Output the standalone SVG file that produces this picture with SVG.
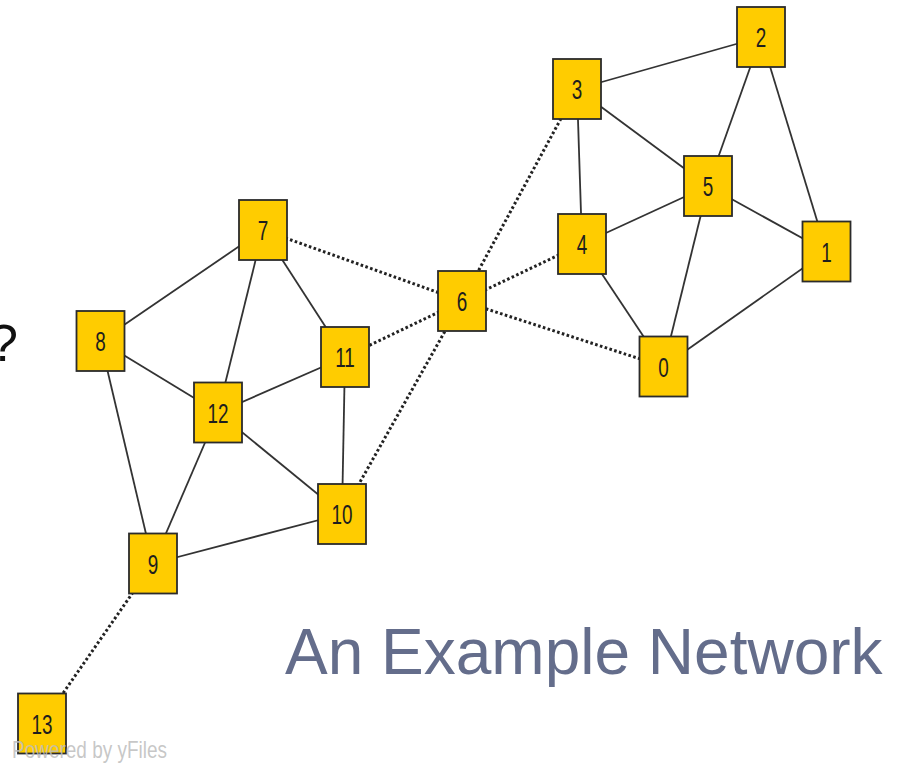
<svg xmlns="http://www.w3.org/2000/svg" width="897" height="763" viewBox="0 0 897 763">
  <style>
    .edge { stroke: #333; stroke-width: 1.8; fill: none; }
    .dot { stroke: #222; stroke-width: 3; fill: none; stroke-dasharray: 2.6 2.4; }
    .box { fill: #FFCC00; stroke: #2b2b2b; stroke-width: 1.8; }
    .lbl { font-family: "Liberation Sans", Arial, sans-serif; font-size: 27px; fill: #1e1e1e; text-anchor: middle; }
  </style>
  <rect width="897" height="763" fill="#ffffff"/>

  <text x="-11" y="361" font-family="'Liberation Sans', Arial, sans-serif" font-size="52" fill="#111">?</text>

  <g id="connectors">
    <!-- solid links -->
    <line class="edge" x1="577" y1="89" x2="761" y2="37"/>
    <line class="edge" x1="761" y1="37" x2="708" y2="186"/>
    <line class="edge" x1="761" y1="37" x2="826.5" y2="251.5"/>
    <line class="edge" x1="577" y1="89" x2="708" y2="186"/>
    <line class="edge" x1="577" y1="89" x2="582" y2="244"/>
    <line class="edge" x1="582" y1="244" x2="708" y2="186"/>
    <line class="edge" x1="708" y1="186" x2="826.5" y2="251.5"/>
    <line class="edge" x1="708" y1="186" x2="663.5" y2="366.5"/>
    <line class="edge" x1="582" y1="244" x2="663.5" y2="366.5"/>
    <line class="edge" x1="826.5" y1="251.5" x2="663.5" y2="366.5"/>
    <line class="edge" x1="263" y1="230" x2="100.5" y2="341"/>
    <line class="edge" x1="263" y1="230" x2="218" y2="412.5"/>
    <line class="edge" x1="263" y1="230" x2="345" y2="357"/>
    <line class="edge" x1="100.5" y1="341" x2="218" y2="412.5"/>
    <line class="edge" x1="100.5" y1="341" x2="153" y2="563.5"/>
    <line class="edge" x1="218" y1="412.5" x2="345" y2="357"/>
    <line class="edge" x1="218" y1="412.5" x2="342" y2="514"/>
    <line class="edge" x1="218" y1="412.5" x2="153" y2="563.5"/>
    <line class="edge" x1="345" y1="357" x2="342" y2="514"/>
    <line class="edge" x1="153" y1="563.5" x2="342" y2="514"/>
    <!-- dotted links -->
    <line class="dot" x1="462" y1="301" x2="577" y2="89"/>
    <line class="dot" x1="462" y1="301" x2="582" y2="244"/>
    <line class="dot" x1="462" y1="301" x2="663.5" y2="366.5"/>
    <line class="dot" x1="462" y1="301" x2="263" y2="230"/>
    <line class="dot" x1="462" y1="301" x2="345" y2="357"/>
    <line class="dot" x1="462" y1="301" x2="342" y2="514"/>
    <line class="dot" x1="153" y1="563.5" x2="42" y2="723.5"/>
  </g>

  <g id="node0" transform="translate(663.5 366.5)"><rect class="box" x="-24" y="-30" width="48" height="60"/><text class="lbl" y="10" transform="scale(0.7 1)">0</text></g>
  <g id="node1" transform="translate(826.5 251.5)"><rect class="box" x="-24" y="-30" width="48" height="60"/><text class="lbl" y="10" transform="scale(0.7 1)">1</text></g>
  <g id="node2" transform="translate(761 37)"><rect class="box" x="-24" y="-30" width="48" height="60"/><text class="lbl" y="10" transform="scale(0.7 1)">2</text></g>
  <g id="node3" transform="translate(577 89)"><rect class="box" x="-24" y="-30" width="48" height="60"/><text class="lbl" y="10" transform="scale(0.7 1)">3</text></g>
  <g id="node4" transform="translate(582 244)"><rect class="box" x="-24" y="-30" width="48" height="60"/><text class="lbl" y="10" transform="scale(0.7 1)">4</text></g>
  <g id="node5" transform="translate(708 186)"><rect class="box" x="-24" y="-30" width="48" height="60"/><text class="lbl" y="10" transform="scale(0.7 1)">5</text></g>
  <g id="node6" transform="translate(462 301)"><rect class="box" x="-24" y="-30" width="48" height="60"/><text class="lbl" y="10" transform="scale(0.7 1)">6</text></g>
  <g id="node7" transform="translate(263 230)"><rect class="box" x="-24" y="-30" width="48" height="60"/><text class="lbl" y="10" transform="scale(0.7 1)">7</text></g>
  <g id="node8" transform="translate(100.5 341)"><rect class="box" x="-24" y="-30" width="48" height="60"/><text class="lbl" y="10" transform="scale(0.7 1)">8</text></g>
  <g id="node9" transform="translate(153 563.5)"><rect class="box" x="-24" y="-30" width="48" height="60"/><text class="lbl" y="10" transform="scale(0.7 1)">9</text></g>
  <g id="node10" transform="translate(342 514)"><rect class="box" x="-24" y="-30" width="48" height="60"/><text class="lbl" y="10" transform="scale(0.7 1)">10</text></g>
  <g id="node11" transform="translate(345 357)"><rect class="box" x="-24" y="-30" width="48" height="60"/><text class="lbl" y="10" transform="scale(0.7 1)">11</text></g>
  <g id="node12" transform="translate(218 412.5)"><rect class="box" x="-24" y="-30" width="48" height="60"/><text class="lbl" y="10" transform="scale(0.7 1)">12</text></g>
  <g id="node13" transform="translate(42 723.5)"><rect class="box" x="-24" y="-30" width="48" height="60"/><text class="lbl" y="10" transform="scale(0.7 1)">13</text></g>

  <text x="12" y="758" font-family="'Liberation Sans', Arial, sans-serif" font-size="24" fill="#bdbdbd" fill-opacity="0.85" textLength="155" lengthAdjust="spacingAndGlyphs">Powered by yFiles</text>

  <text x="285" y="674" font-family="'Liberation Sans', Arial, sans-serif" font-size="64" fill="#646d8b">An Example Network</text>
</svg>
